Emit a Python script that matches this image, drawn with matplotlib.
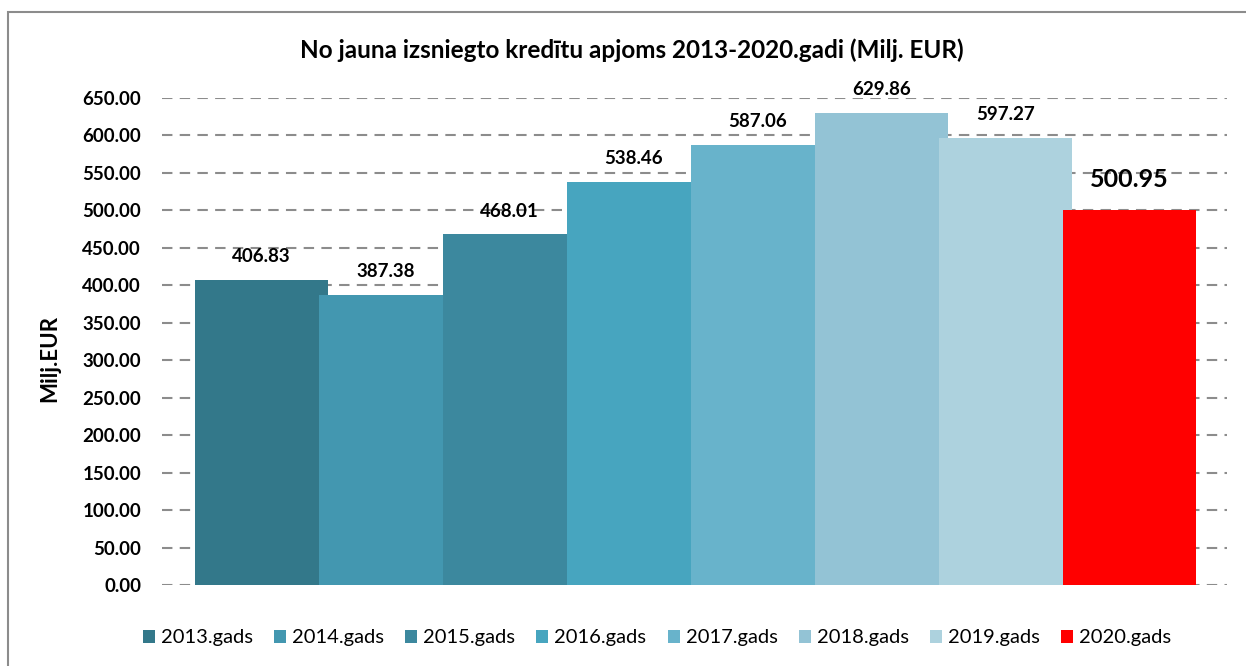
import matplotlib
matplotlib.use("Agg")
import matplotlib.pyplot as plt
from matplotlib.patches import Rectangle

years = ["2013.gads", "2014.gads", "2015.gads", "2016.gads",
         "2017.gads", "2018.gads", "2019.gads", "2020.gads"]
values = [406.83, 387.38, 468.01, 538.46, 587.06, 629.86, 597.27, 500.95]
colors = ["#33788A", "#4397B0", "#3C889E", "#47A5BF",
          "#68B3CB", "#93C3D5", "#ADD2DE", "#FF0000"]
yticks = [0, 50, 100, 150, 200, 250, 300, 350, 400, 450, 500, 550, 600, 650]

plt.rcParams['font.family'] = ['Lato', 'DejaVu Sans']

fig = plt.figure(figsize=(12.46, 6.66), dpi=100)
ax = fig.add_axes([162 / 1246, 1 - 585 / 666, 1065 / 1246, 487 / 666])

# outer frame of the chart area
fig.patches.append(Rectangle((8 / 1246, -0.1), 1.2, 1 - 12 / 666 + 0.1,
                             transform=fig.transFigure, fill=False,
                             edgecolor="#8c8c8c", linewidth=1.5))

for y in yticks:
    ax.axhline(y, color="#8c8c8c", linestyle=(0, (5, 3.5)), linewidth=1.5, zorder=0)

for i, (yr, v, c) in enumerate(zip(years, values, colors)):
    ax.bar(i, v, width=1.07, align="edge", color=c, label=yr, zorder=2 + i)
    if i == len(years) - 1:
        ax.text(i + 0.535, v + 40, f"{v:.2f}", ha="center", va="center",
                fontsize=18, fontweight="bold", zorder=20)
    else:
        ax.text(i + 0.535, v + 31, f"{v:.2f}", ha="center", va="center",
                fontsize=13.5, fontweight="bold", zorder=20)

ax.set_xlim(-33 / 124, 1032 / 124)
ax.set_ylim(0, 650)
ax.set_yticks(yticks)
ax.set_yticklabels([f"{t:.2f}" for t in yticks], fontsize=13.5, fontweight="bold")
ax.set_xticks([])
ax.tick_params(axis="y", length=0, pad=15)
for s in ax.spines.values():
    s.set_visible(False)

fig.text(632 / 1246, 1 - 50 / 666,
         "No jauna izsniegto kredītu apjoms 2013-2020.gadi (Milj. EUR)",
         ha="center", va="center", fontsize=17.5, fontweight="bold")
fig.text(50 / 1246, 1 - 358 / 666, "Milj.EUR", rotation=90,
         ha="center", va="center", fontsize=16, fontweight="bold")

fig.legend(loc="center", bbox_to_anchor=(657 / 1246, 1 - 638 / 666), ncol=8,
           frameon=False, fontsize=14.5, handlelength=0.6, handleheight=0.6,
           handletextpad=0.3, columnspacing=1.05)

fig.savefig("out.png", dpi=100)
